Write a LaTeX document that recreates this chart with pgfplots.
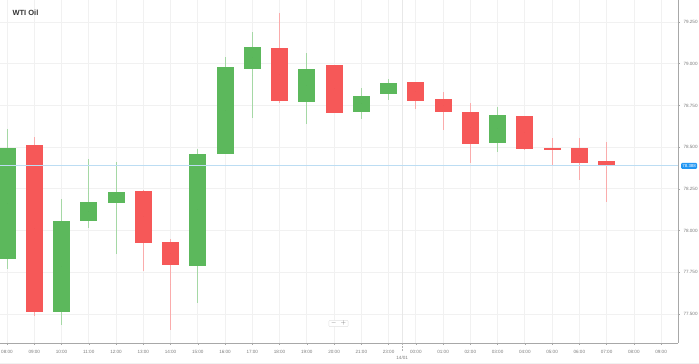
\documentclass[border=0pt]{standalone}
\usepackage{pgfplots}
\pgfplotsset{compat=1.18}
\usepackage{pgfplotstable}
\usepackage{fontspec}
\setmainfont{Liberation Sans}
\definecolor{cgreen}{HTML}{5CB85C}
\definecolor{cred}{HTML}{F65858}
\definecolor{gridc}{HTML}{F1F1F1}
\definecolor{axc}{HTML}{A8A8A8}
\definecolor{lblc}{HTML}{7A7A7A}
\definecolor{pricec}{HTML}{BCDDF3}
\definecolor{priceb}{HTML}{2196F3}

\pgfplotstableread{
x open high low close
0 77.835 78.609 77.769 78.489
2 77.517 78.189 77.434 78.057
3 78.063 78.429 78.015 78.171
4 78.171 78.411 77.859 78.231
7 77.793 78.489 77.565 78.459
8 78.465 79.040 78.465 78.980
9 78.974 79.190 78.674 79.100
11 78.776 79.064 78.638 78.968
13 78.716 78.854 78.668 78.806
14 78.824 78.908 78.782 78.884
18 78.530 78.742 78.471 78.692
}\greentab

\pgfplotstableread{
x open high low close
1 78.513 78.561 77.487 77.517
5 78.237 78.243 77.757 77.931
6 77.931 77.949 77.403 77.799
10 79.094 79.304 78.764 78.782
12 78.990 78.990 78.704 78.710
15 78.890 78.890 78.728 78.782
16 78.788 78.830 78.603 78.716
17 78.710 78.764 78.405 78.524
19 78.686 78.686 78.483 78.490
20 78.495 78.553 78.387 78.487
21 78.489 78.553 78.303 78.405
22 78.412 78.529 78.171 78.388
}\redtab

\pgfplotsset{candle/.style={forget plot, only marks, mark size=0pt,
  mark options={draw=none, fill=none}}}

\begin{document}
\begin{tikzpicture}
\path[use as bounding box] (0pt,-21pt) rectangle (699pt,343pt);
\draw[gridc, line width=0.8pt] (0pt,-20pt) -- (699pt,-20pt);
\begin{axis}[
  at={(0pt,0pt)}, anchor=south west,
  scale only axis, width=678pt, height=343pt,
  xmin=-0.257, xmax=24.62, ymin=77.326, ymax=79.382,
  axis x line*=bottom, axis y line*=right,
  axis line style={axc, line width=0.8pt, -},
  xtick={0,...,24},
  xticklabels={08:00,09:00,10:00,11:00,12:00,13:00,14:00,15:00,16:00,17:00,18:00,19:00,20:00,21:00,23:00,00:00,01:00,02:00,03:00,04:00,05:00,06:00,07:00,08:00,09:00},
  ytick={77.5,77.75,78,78.25,78.5,78.75,79,79.25},
  grid=major, major grid style={gridc, line width=0.7pt},
  tick align=outside, major tick length=2pt,
  tick style={axc, line width=0.5pt},
  ticklabel style={font=\fontsize{4.6}{5}\selectfont, text=lblc},
  xticklabel style={yshift=-1.5pt},
  /pgf/number format/assume math mode=true,
  yticklabel style={/pgf/number format/.cd, fixed, fixed zerofill, precision=3},
  clip mode=individual,
]
% day separator
\draw[black!9, line width=0.6pt] (axis cs:14.5,77.326) -- (axis cs:14.5,79.382);
\draw[black!30, densely dotted, line width=0.5pt] (axis cs:14.5,77.326) -- ++(0pt,-8pt);
\node[font=\fontsize{4.6}{5}\selectfont, text=lblc] at (axis cs:14.5,77.326) [yshift=-15pt] {14/01};

% wicks
\addplot[candle,
  error bars/.cd, y dir=both, y explicit, error mark=none,
  error bar style={line width=0.9pt, cgreen!55}]
  table[x=x, y expr={(\thisrow{high}+\thisrow{low})/2}, y error expr={(\thisrow{high}-\thisrow{low})/2}] {\greentab};
\addplot[candle,
  error bars/.cd, y dir=both, y explicit, error mark=none,
  error bar style={line width=0.9pt, cred!50}]
  table[x=x, y expr={(\thisrow{high}+\thisrow{low})/2}, y error expr={(\thisrow{high}-\thisrow{low})/2}] {\redtab};
% bodies
\addplot[candle,
  error bars/.cd, y dir=both, y explicit, error mark=none,
  error bar style={line width=17pt, cgreen}]
  table[x=x, y expr={(\thisrow{open}+\thisrow{close})/2}, y error expr={abs(\thisrow{close}-\thisrow{open})/2+0.003}] {\greentab};
\addplot[candle,
  error bars/.cd, y dir=both, y explicit, error mark=none,
  error bar style={line width=17pt, cred}]
  table[x=x, y expr={(\thisrow{open}+\thisrow{close})/2}, y error expr={abs(\thisrow{close}-\thisrow{open})/2+0.003}] {\redtab};

% current price line
\addplot[forget plot, pricec, line width=1pt] coordinates {(-0.257,78.388) (24.62,78.388)};
\node[anchor=west, fill=priceb, text=white, font=\fontsize{4.4}{5}\selectfont, inner xsep=1.2pt, inner ysep=1.4pt, rounded corners=1pt] at (axis cs:24.62,78.388) [xshift=3pt] {78.388};

% title
\node[anchor=west, font=\bfseries\fontsize{7.5}{8}\selectfont, text=black!80] at (rel axis cs:0,1) [xshift=9pt, yshift=-13pt] {WTI Oil};

% zoom control
\node[draw=black!12, fill=white, rounded corners=1pt, inner xsep=2pt, inner ysep=0.8pt, font=\fontsize{6}{6}\selectfont, text=black!55] at (rel axis cs:0.5,0) [xshift=-0.5pt, yshift=19.5pt] {$-$\hspace{4pt}$+$};
\end{axis}
\end{tikzpicture}
\end{document}
